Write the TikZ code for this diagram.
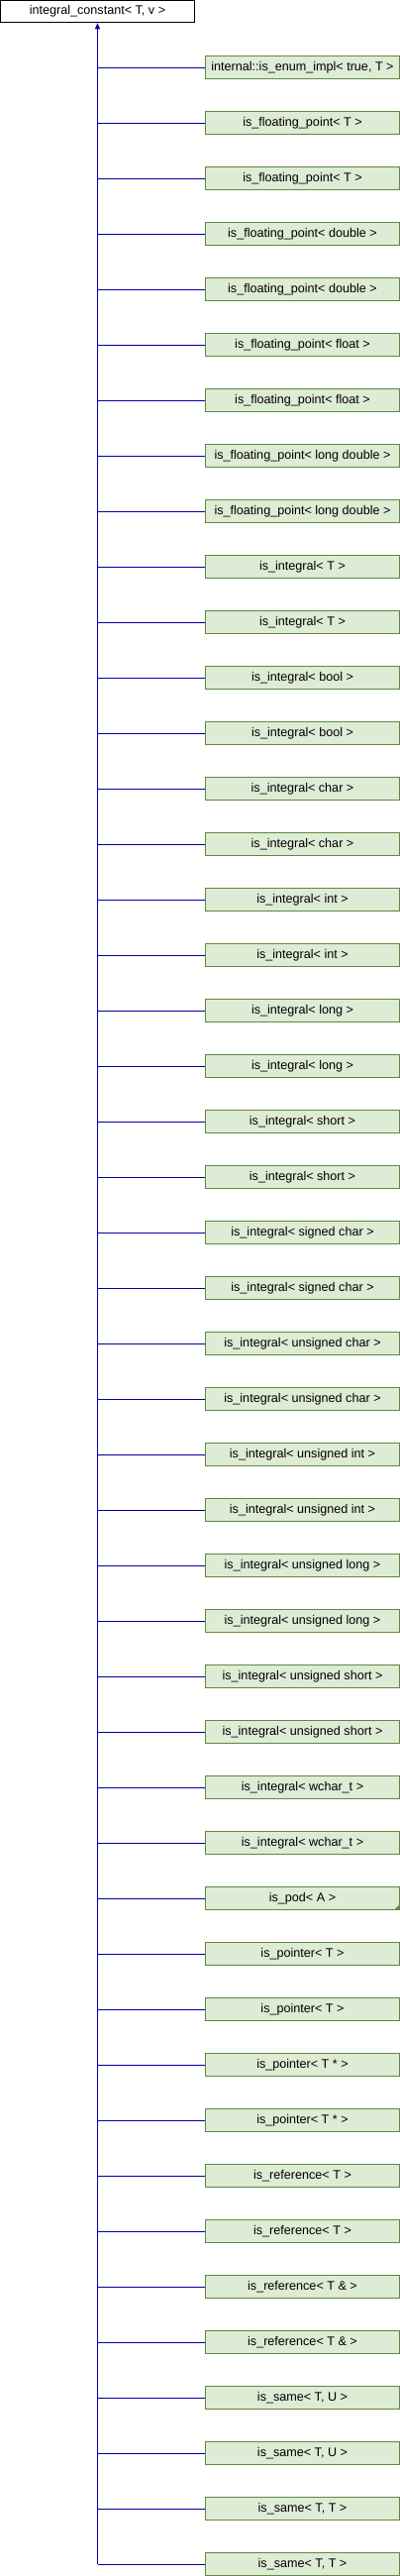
\documentclass[tikz,border=0pt]{standalone}
\usepackage{fontspec}
\setmainfont{Liberation Sans}
\usetikzlibrary{arrows.meta}
\definecolor{boxfill}{RGB}{222,235,213}
\definecolor{boxline}{RGB}{92,138,62}
\definecolor{edgeblue}{RGB}{0,0,165}
\begin{document}
\begin{tikzpicture}
		[x=1pt,y=-1pt,
		base/.style={draw=black,fill=white,line width=1pt,minimum width=196pt,minimum height=22.5pt,inner sep=0pt,font=\fontsize{12.6}{14}\selectfont},
		cls/.style={draw=boxline,fill=boxfill,line width=1pt,minimum width=196pt,minimum height=22.5pt,inner sep=0pt,font=\fontsize{12.6}{14}\selectfont},
		edge/.style={draw=edgeblue,line width=1pt}]
		\useasboundingbox (0,0) rectangle (404,2600);
		\node[base,name=top] at (98.5,11.5) {integral\_constant< T, v >};
		\node[cls,name=c1] at (305.5,68) {internal::is\_enum\_impl< true, T >};
		\node[cls,name=c2] at (305.5,124) {is\_floating\_point< T >};
		\node[cls,name=c3] at (305.5,180) {is\_floating\_point< T >};
		\node[cls,name=c4] at (305.5,236) {is\_floating\_point< double >};
		\node[cls,name=c5] at (305.5,292) {is\_floating\_point< double >};
		\node[cls,name=c6] at (305.5,348) {is\_floating\_point< float >};
		\node[cls,name=c7] at (305.5,404) {is\_floating\_point< float >};
		\node[cls,name=c8] at (305.5,460) {is\_floating\_point< long double >};
		\node[cls,name=c9] at (305.5,516) {is\_floating\_point< long double >};
		\node[cls,name=c10] at (305.5,572) {is\_integral< T >};
		\node[cls,name=c11] at (305.5,628) {is\_integral< T >};
		\node[cls,name=c12] at (305.5,684) {is\_integral< bool >};
		\node[cls,name=c13] at (305.5,740) {is\_integral< bool >};
		\node[cls,name=c14] at (305.5,796) {is\_integral< char >};
		\node[cls,name=c15] at (305.5,852) {is\_integral< char >};
		\node[cls,name=c16] at (305.5,908) {is\_integral< int >};
		\node[cls,name=c17] at (305.5,964) {is\_integral< int >};
		\node[cls,name=c18] at (305.5,1020) {is\_integral< long >};
		\node[cls,name=c19] at (305.5,1076) {is\_integral< long >};
		\node[cls,name=c20] at (305.5,1132) {is\_integral< short >};
		\node[cls,name=c21] at (305.5,1188) {is\_integral< short >};
		\node[cls,name=c22] at (305.5,1244) {is\_integral< signed char >};
		\node[cls,name=c23] at (305.5,1300) {is\_integral< signed char >};
		\node[cls,name=c24] at (305.5,1356) {is\_integral< unsigned char >};
		\node[cls,name=c25] at (305.5,1412) {is\_integral< unsigned char >};
		\node[cls,name=c26] at (305.5,1468) {is\_integral< unsigned int >};
		\node[cls,name=c27] at (305.5,1524) {is\_integral< unsigned int >};
		\node[cls,name=c28] at (305.5,1580) {is\_integral< unsigned long >};
		\node[cls,name=c29] at (305.5,1636) {is\_integral< unsigned long >};
		\node[cls,name=c30] at (305.5,1692) {is\_integral< unsigned short >};
		\node[cls,name=c31] at (305.5,1748) {is\_integral< unsigned short >};
		\node[cls,name=c32] at (305.5,1804) {is\_integral< wchar\_t >};
		\node[cls,name=c33] at (305.5,1860) {is\_integral< wchar\_t >};
		\node[cls,name=c34] at (305.5,1916) {is\_pod< A >};
		\node[cls,name=c35] at (305.5,1972) {is\_pointer< T >};
		\node[cls,name=c36] at (305.5,2028) {is\_pointer< T >};
		\node[cls,name=c37] at (305.5,2084) {is\_pointer< T * >};
		\node[cls,name=c38] at (305.5,2140) {is\_pointer< T * >};
		\node[cls,name=c39] at (305.5,2196) {is\_reference< T >};
		\node[cls,name=c40] at (305.5,2252) {is\_reference< T >};
		\node[cls,name=c41] at (305.5,2308) {is\_reference< T \& >};
		\node[cls,name=c42] at (305.5,2364) {is\_reference< T \& >};
		\node[cls,name=c43] at (305.5,2420) {is\_same< T, U >};
		\node[cls,name=c44] at (305.5,2476) {is\_same< T, U >};
		\node[cls,name=c45] at (305.5,2532) {is\_same< T, T >};
		\node[cls,name=c46] at (305.5,2588) {is\_same< T, T >};
		% corner mark of is_pod
		\fill[boxline] ([shift={(-0.5,-0.5)}]c34.south east) -- ++(-5,0) -- ++(5,-5) -- cycle;
		% trunk up to the base class
		\draw[edge,-{Triangle[length=6pt,width=5pt]}] (c46.west -| top.south) -- (top.south);
		\foreach \i in {1,...,46}
			\draw[edge] (c\i.west) -- (c\i.west -| top.south);
	\end{tikzpicture}
\end{document}
